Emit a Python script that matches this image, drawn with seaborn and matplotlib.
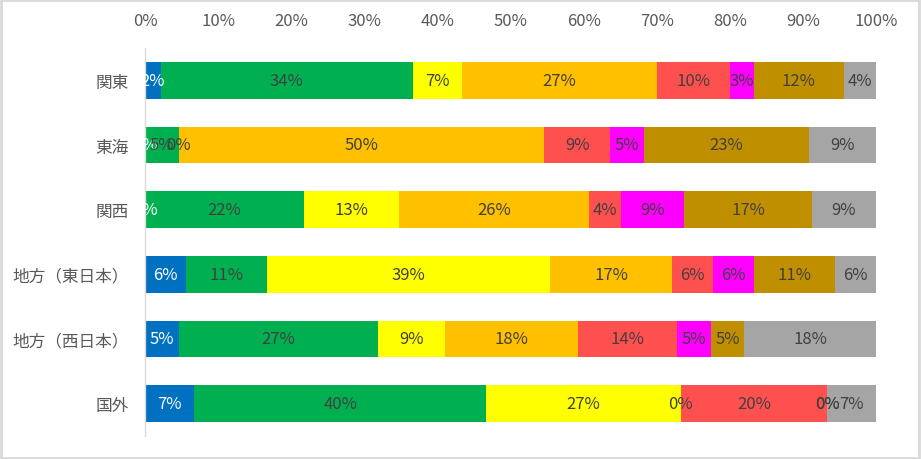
import numpy as np
import pandas as pd
import matplotlib
matplotlib.use('Agg')
import matplotlib.pyplot as plt
import seaborn as sns
from matplotlib.patches import Rectangle

sns.set_style('white')
plt.rcParams['font.family'] = ['Noto Sans CJK JP', 'DejaVu Sans']

# 地域（上から順）
regions = ['関東', '東海', '関西', '地方（東日本）', '地方（西日本）', '国外']

# 各地域の構成比（%）、左のセグメントから順
kanto      = [2.2, 34.4, 6.7, 26.7, 10.0, 3.3, 12.3, 4.4]
tokai      = [0.0, 4.6, 0.0, 50.0, 9.0, 4.6, 22.7, 9.1]
kansai     = [0.0, 21.7, 13.0, 26.1, 4.3, 8.7, 17.4, 8.8]
east_local = [5.6, 11.1, 38.7, 16.7, 5.6, 5.6, 11.1, 5.6]
west_local = [4.6, 27.3, 9.1, 18.2, 13.6, 4.6, 4.6, 18.0]
overseas   = [6.7, 40.0, 26.6, 0.0, 20.0, 0.0, 0.0, 6.7]

seg_colors = ['#0070C0', '#00B050', '#FFFF00', '#FFC000',
              '#FF5050', '#FF00FF', '#BF8F00', '#A5A5A5']
label_colors = ['white'] + ['#404040'] * 7

vals = np.array([kanto, tokai, kansai, east_local, west_local, overseas])
cum = vals.cumsum(axis=1)
df = pd.DataFrame(cum, columns=[f's{i}' for i in range(8)])
df['region'] = regions

fig = plt.figure(figsize=(9.21, 4.6), dpi=100)
ax = fig.add_axes([145 / 921, 1 - 437 / 460, 731 / 921, 388 / 460])

# 積み上げ：累積値を後ろから重ねて描く
for i in range(7, -1, -1):
    sns.barplot(data=df, x=f's{i}', y='region', order=regions, orient='h',
                color=seg_colors[i], saturation=1, width=0.57,
                edgecolor='none', linewidth=0, ax=ax)

for r in range(len(regions)):
    for i in range(8):
        xc = cum[r, i] - vals[r, i] / 2
        ax.text(xc, r, f'{vals[r, i]:.0f}%', ha='center', va='center',
                fontsize=12, color=label_colors[i])

ax.set_xlim(0, 100)
ax.set_xticks(range(0, 101, 10))
ax.set_xticklabels([f'{t}%' for t in range(0, 101, 10)])
ax.xaxis.tick_top()
ax.tick_params(axis='x', length=0, pad=14, labelsize=12, labelcolor='#595959')
ax.tick_params(axis='y', length=0, pad=12, labelsize=12, labelcolor='#595959')
ax.set_xlabel('')
ax.set_ylabel('')
for s in ['top', 'right', 'bottom']:
    ax.spines[s].set_visible(False)
ax.spines['left'].set_color('#D9D9D9')
ax.spines['left'].set_linewidth(1)

fig.patches.append(Rectangle((0.001, 0.002), 0.997, 0.995, transform=fig.transFigure,
                             fill=False, edgecolor='#D9D9D9', linewidth=2))

fig.savefig('out.png', dpi=100)
